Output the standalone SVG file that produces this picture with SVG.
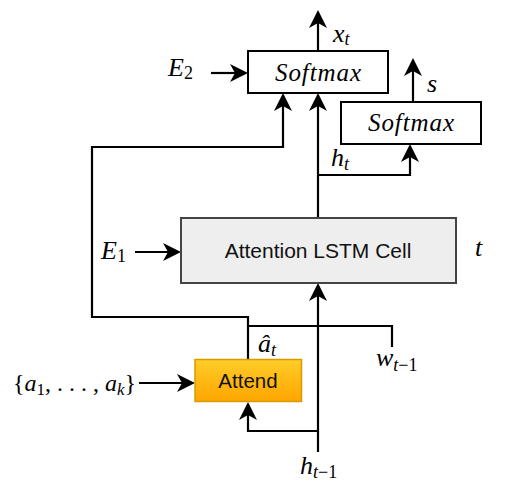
<svg xmlns="http://www.w3.org/2000/svg" width="514" height="483" viewBox="0 0 514 483">
<style>
.ln{fill:none;stroke:#000;stroke-width:2.2}
.arr{marker-end:url(#ah)}
.box{fill:#fff;stroke:#000;stroke-width:2}
.m{font-family:"Liberation Serif","Times New Roman",serif;font-style:italic;font-size:26px;fill:#000}
.sub{font-size:18px}
.rm{font-style:normal}
.sans{font-family:"Liberation Sans",Arial,Helvetica,sans-serif;fill:#111}
</style>
<defs>
<marker id="ah" markerUnits="userSpaceOnUse" viewBox="0 0 18 18" markerWidth="18" markerHeight="18" refX="12" refY="9" orient="auto">
<path d="M0,0 L18,9 L0,18 L5,9 z" fill="#000"/>
</marker>
<linearGradient id="og" x1="0" y1="0" x2="0" y2="1">
<stop offset="0" stop-color="#ffcd28"/>
<stop offset="1" stop-color="#ffa500"/>
</linearGradient>
</defs>

<g id="connectors">
<line class="ln arr" x1="318" y1="51" x2="318" y2="16"/>
<line class="ln arr" x1="413" y1="102" x2="413" y2="64"/>
<line class="ln arr" x1="211" y1="73" x2="242" y2="73"/>
<line class="ln arr" x1="318" y1="218" x2="318" y2="99"/>
<polyline class="ln arr" points="318,175 410,175 410,150"/>
<polyline class="ln arr" points="248,359 248,317 92,317 92,147 283,147 283,99"/>
<polyline class="ln" points="392,347 392,326 248,326"/>
<line class="ln arr" x1="135" y1="252" x2="175" y2="252"/>
<line class="ln arr" x1="318" y1="452" x2="318" y2="289"/>
<polyline class="ln arr" points="318,431 248,431 248,408"/>
<line class="ln arr" x1="139" y1="383" x2="189" y2="383"/>
</g>

<g id="softmax1">
<rect class="box" x="248" y="51" width="140" height="42"/>
<text class="m" x="318" y="81" style="font-size:25px" text-anchor="middle" textLength="86" lengthAdjust="spacing">Softmax</text>
</g>
<g id="softmax2">
<rect class="box" x="341" y="102" width="140" height="42"/>
<text class="m" x="411" y="131" style="font-size:25px" text-anchor="middle" textLength="86" lengthAdjust="spacing">Softmax</text>
</g>
<g id="lstm">
<rect x="181" y="218" width="275" height="65" fill="#eeeeee" stroke="#444" stroke-width="2"/>
<text class="sans" x="318" y="258" font-size="21" text-anchor="middle">Attention LSTM Cell</text>
</g>
<g id="attend">
<rect x="195" y="359.5" width="106.5" height="42" fill="url(#og)" stroke="#d79b00" stroke-width="1.5"/>
<text class="sans" x="248" y="388" font-size="20.5" text-anchor="middle" fill="#1a1a1a">Attend</text>
</g>

<g id="labels">
<text class="m" x="333" y="42">x<tspan class="sub" dy="3">t</tspan></text>
<text class="m" x="427" y="92">s</text>
<text class="m" x="331" y="166">h<tspan class="sub" dy="4">t</tspan></text>
<text class="m" x="168" y="76">E<tspan class="sub rm" dy="3">2</tspan></text>
<text class="m" x="101" y="259">E<tspan class="sub rm" dy="3">1</tspan></text>
<text class="m" x="475" y="256">t</text>
<text class="m" x="258" y="352">â<tspan class="sub" dy="4">t</tspan></text>
<text class="m" x="376" y="366">w<tspan class="sub" dy="5">t<tspan class="rm">−1</tspan></tspan></text>
<text class="m" x="13" y="391" style="font-size:24px"><tspan class="rm">{</tspan>a<tspan class="sub rm" style="font-size:17px" dy="4">1</tspan><tspan class="rm" dy="-4">, . . . , </tspan>a<tspan class="sub" style="font-size:17px" dy="4">k</tspan><tspan class="rm" dy="-4">}</tspan></text>
<text class="m" x="300" y="474">h<tspan class="sub" dy="4">t<tspan class="rm">−1</tspan></tspan></text>
</g>
</svg>
